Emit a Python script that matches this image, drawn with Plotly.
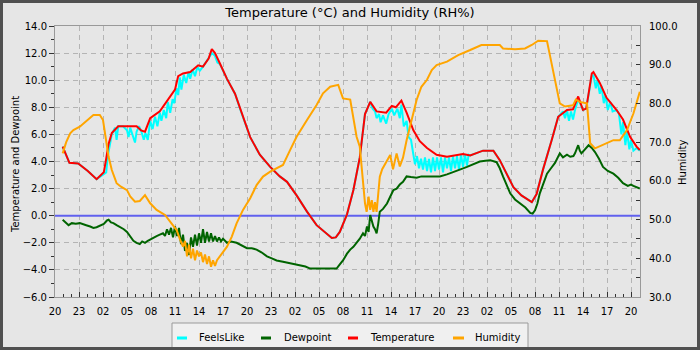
import pandas as pd
import plotly.graph_objects as go

# ---------------------------------------------------------------------------
# Data: hours after the start of the window (20:00 on the first day)
# ---------------------------------------------------------------------------
START = pd.Timestamp("2024-02-10 20:00")

temp_hours = [0.96, 1.8, 2.9, 4.1, 5.2, 6.1, 6.4, 6.7, 7.1, 7.9, 10.2, 10.75, 11.25, 11.9,
              13.1, 14.0, 15.0, 15.4, 16.0, 16.9, 17.9, 18.5, 19.2, 19.6, 20.0, 20.6, 21.5,
              22.5, 23.3, 24.4, 25.6, 26.9, 28.1, 29.0, 30.2, 31.5, 32.7, 33.75, 34.6, 35.1,
              35.6, 36.5, 37.3, 38.1, 38.75, 39.4, 40.2, 41.4, 42.1, 42.6, 43.3, 43.95, 44.8,
              45.6, 46.5, 47.7, 49.0, 51.0, 51.9, 53.5, 54.8, 55.6, 56.5, 57.3, 58.3, 59.6,
              60.2, 61.0, 62.1, 62.9, 64.0, 64.75, 65.4, 66.0, 66.4, 67.1, 67.3, 68.1, 68.95,
              70.2, 71.0, 71.9, 72.7, 73.1]
temp_vals = [5.1, 3.9, 3.85, 3.3, 2.7, 3.2, 4.2, 5.3, 6.1, 6.6, 6.6, 6.3, 6.2, 7.2,
             7.7, 8.5, 9.3, 10.3, 10.5, 10.6, 11.1, 11.0, 11.6, 12.3, 12.0, 11.25, 10.1,
             9.0, 7.6, 5.8, 4.5, 3.6, 2.9, 2.5, 1.5, 0.3, -0.7, -1.2, -1.65, -1.6,
             -1.2, 0.1, 1.9, 4.3, 7.5, 8.4, 7.7, 7.6, 8.1, 8.0, 8.5, 7.6, 6.3,
             5.5, 5.0, 4.5, 4.35, 4.55, 4.45, 4.8, 4.8, 4.1, 3.0, 2.1, 1.5, 1.0,
             1.6, 3.4, 5.6, 7.3, 7.8, 7.85, 8.8, 7.8, 7.9, 10.5, 10.6, 9.8, 8.7,
             7.8, 7.1, 5.8, 5.1, 4.85]

feels_hours = [0.96, 1.8, 2.9, 4.1, 5.2, 6.1, 6.4, 6.6, 6.8, 7.1, 7.5, 7.7, 7.9, 8.5, 9.0,
               9.2, 9.4, 9.7, 10.0, 10.2, 10.5, 10.8, 11.1, 11.3, 11.6, 11.9, 12.2, 12.5,
               12.8, 13.1, 13.3, 13.6, 13.9, 14.1, 14.4, 14.7, 14.9, 15.2, 15.4, 15.6, 15.8,
               16.1, 16.4, 16.7, 16.9, 17.2, 17.5, 17.8, 18.1, 18.5, 19.0, 19.4, 19.6, 20.0,
               20.3, 20.6, 21.5, 22.5, 23.3, 24.4, 25.6, 26.9, 28.1, 29.0, 30.2, 31.5, 32.7,
               33.75, 34.6, 35.1, 35.6, 36.5, 37.3, 38.1, 38.75, 39.4, 39.7, 40.0, 40.2,
               40.5, 40.7, 41.0, 41.4, 41.7, 42.1, 42.4, 42.8, 43.1, 43.3, 43.6, 43.95, 44.2,
               44.5, 44.8, 45.0, 45.25, 45.5, 45.75, 46.0, 46.25, 46.5, 46.75, 47.0, 47.25,
               47.5, 47.75, 48.0, 48.25, 48.5, 48.75, 49.0, 49.25, 49.5, 49.75, 50.0, 50.25,
               50.5, 50.75, 51.0, 51.25, 51.5, 51.7, 51.9, 53.5, 54.8, 55.6, 56.5, 57.3,
               58.3, 59.6, 60.2, 61.0, 62.1, 62.9, 63.5, 63.75, 64.0, 64.25, 64.5, 64.75,
               65.0, 65.4, 66.0, 66.4, 67.1, 67.3, 67.6, 67.8, 68.1, 68.3, 68.6, 68.8, 69.1,
               69.4, 69.7, 70.2, 70.5, 70.8, 71.0, 71.3, 71.5, 71.8, 72.0, 72.3, 72.7, 73.1]
feels_vals = [5.1, 3.9, 3.85, 3.3, 2.7, 3.1, 3.2, 4.4, 5.0, 6.0, 6.5, 5.6, 6.6, 6.6, 6.3,
              5.8, 6.5, 5.9, 5.4, 6.2, 6.6, 6.2, 5.6, 6.1, 5.6, 7.0, 6.4, 7.3,
              6.6, 7.6, 7.0, 7.8, 7.2, 8.4, 7.6, 8.6, 8.3, 9.4, 8.9, 10.2, 9.3,
              10.4, 9.8, 10.6, 10.1, 10.8, 10.3, 11.0, 10.7, 11.0, 11.4, 11.8, 12.0, 11.8,
              11.3, 11.2, 10.1, 9.0, 7.6, 5.8, 4.5, 3.6, 2.9, 2.5, 1.5, 0.3, -0.7,
              -1.2, -1.65, -1.6, -1.2, 0.1, 1.9, 4.3, 7.5, 8.4, 7.9, 7.7, 7.2,
              7.5, 6.9, 7.4, 6.8, 7.5, 7.9, 7.4, 7.9, 7.2, 8.2, 6.6, 7.0, 5.8,
              5.6, 4.5, 3.8, 4.4, 3.5, 4.2, 3.4, 4.3, 3.3, 4.2, 3.2, 4.3,
              3.3, 4.3, 3.4, 4.3, 3.2, 4.3, 3.5, 4.3, 3.3, 4.4, 3.5, 4.4,
              3.4, 4.5, 3.6, 4.5, 3.7, 4.5, 4.45, 4.8, 4.8, 4.1, 3.0, 2.1,
              1.5, 1.0, 1.6, 3.4, 5.6, 7.3, 7.7, 7.2, 7.8, 7.0, 7.7, 7.1,
              7.8, 8.6, 7.8, 7.9, 10.3, 10.4, 9.4, 10.0, 9.0, 9.6, 8.3, 8.9, 7.8,
              8.4, 7.7, 7.8, 7.5, 6.0, 6.9, 5.2, 6.2, 4.9, 5.6, 4.8, 5.0, 4.8]

dew_hours = [0.96, 1.3, 1.7, 2.1, 2.6, 3.1, 3.5, 3.9, 4.4, 4.8, 5.2, 5.6, 6.1, 6.5, 6.7,
             7.0, 7.3, 7.7, 8.2, 8.6, 9.0, 9.5, 9.8, 10.2, 10.6, 10.9, 11.25, 11.6, 12.0,
             12.3, 12.7, 13.1, 13.5, 13.75, 14.0, 14.25, 14.5, 14.75, 15.0, 15.25, 15.5,
             15.75, 16.0, 16.25, 16.5, 16.75, 17.0, 17.25, 17.5, 17.75, 18.0, 18.25, 18.5,
             18.75, 19.0, 19.25, 19.5, 19.75, 20.0, 20.25, 20.5, 20.75, 21.0, 21.5, 22.0,
             22.7, 23.3, 24.0, 24.6, 25.2, 25.8, 26.5, 27.1, 27.7, 28.5, 29.4, 30.0, 30.6,
             31.3, 31.9, 32.7, 33.5, 34.3, 35.2, 35.6, 36.0, 36.5, 36.9, 37.3, 37.7, 38.1,
             38.5, 38.75, 39.0, 39.2, 39.4, 39.6, 39.8, 40.0, 40.2, 40.4, 40.6, 41.0, 41.5,
             41.9, 42.3, 42.7, 43.1, 43.5, 43.95, 44.5, 45.2, 45.8, 46.5, 47.2, 48.1, 49.0,
             49.8, 50.6, 51.5, 52.3, 53.1, 53.8, 54.4, 55.2, 55.6, 56.0, 56.5, 56.9, 57.5,
             58.1, 58.8, 59.4, 59.7, 60.0, 60.3, 60.6, 61.0, 61.5, 62.0, 62.5, 63.1, 63.5,
             64.0, 64.4, 64.8, 65.0, 65.4, 65.6, 65.8, 66.2, 66.7, 67.1, 67.5, 68.0, 68.5,
             69.1, 69.8, 70.4, 71.0, 71.6, 72.0, 72.3, 72.7, 73.1]
dew_vals = [-0.3, -0.5, -0.7, -0.55, -0.6, -0.55, -0.65, -0.7, -0.8, -0.9, -0.85, -0.75, -0.6,
            -0.35, -0.3, -0.5, -0.55, -0.7, -0.85, -1.0, -1.2, -1.6, -1.85, -2.0, -2.1, -1.9,
            -2.0, -1.85, -1.7, -1.65, -1.5, -1.4, -1.3, -1.5, -1.0, -1.4, -0.9, -1.6, -0.8,
            -1.5, -0.9, -2.1, -1.4, -2.6, -2.0, -2.9, -1.6, -2.3, -1.4, -2.2, -1.3, -2.0,
            -1.0, -2.0, -1.2, -1.9, -1.3, -1.9, -1.5, -1.9, -1.6, -1.9, -1.7, -2.0, -1.9,
            -2.0, -2.2, -2.4, -2.4, -2.5, -2.7, -3.0, -3.15, -3.3, -3.4, -3.5, -3.55, -3.65,
            -3.75, -3.9, -3.9, -3.95, -3.9, -3.9, -3.6, -3.3, -2.8, -2.5, -2.3, -2.0, -1.7,
            -1.3, -1.5, -0.8, -1.2, 0.05, -0.5, -0.8, -1.0, -1.3, -0.6, 0.3, 0.5, 0.9,
            1.4, 1.9, 2.0, 2.3, 2.5, 2.9, 2.85, 2.8, 2.9, 2.9, 2.85, 2.9, 3.05,
            3.25, 3.4, 3.6, 3.8, 4.0, 4.05, 4.1, 3.95, 3.5, 2.9, 2.2, 1.65, 1.2,
            0.9, 0.6, 0.2, 0.15, 0.4, 0.9, 1.65, 2.3, 3.1, 3.5, 3.9, 4.6, 4.3,
            4.5, 4.35, 4.4, 4.6, 5.2, 4.8, 4.6, 4.9, 5.2, 5.0, 4.7, 4.2, 3.6,
            3.3, 3.1, 2.8, 2.4, 2.2, 2.3, 2.2, 2.1, 2.0]

hum_hours = [0.96, 1.4, 1.9, 2.3, 3.1, 4.0, 4.8, 5.6, 6.0, 6.25, 6.7, 7.1, 7.7, 8.25, 9.0,
             9.4, 10.0, 10.6, 11.25, 11.9, 12.7, 13.75, 14.4, 15.2, 15.6, 16.0, 16.25, 16.5,
             16.75, 17.0, 17.25, 17.5, 17.75, 18.0, 18.25, 18.5, 18.75, 19.0, 19.25, 19.5,
             19.75, 20.0, 20.25, 20.6, 21.5, 22.1, 22.7, 23.5, 24.4, 25.2, 26.0, 26.9, 27.7,
             28.5, 29.4, 30.2, 31.5, 32.7, 33.5, 34.4, 35.4, 35.75, 36.0, 36.9, 37.3, 37.7,
             38.1, 38.35, 38.75, 38.95, 39.2, 39.4, 39.6, 39.8, 40.0, 40.2, 40.6, 40.9, 41.5,
             41.9, 42.25, 42.7, 43.1, 43.5, 43.95, 44.6, 45.2, 45.8, 46.5, 47.1, 47.7, 49.0,
             50.4, 51.9, 53.3, 55.6, 56.0, 57.5, 58.75, 59.6, 60.4, 61.5, 61.9, 62.3, 62.7,
             63.1, 63.75, 64.75, 65.1, 65.6, 66.5, 66.7, 66.9, 67.5, 68.5, 69.8, 70.6, 71.5,
             72.3, 73.1]
hum_vals = [67.1, 70.0, 72.3, 73.1, 74.0, 75.7, 77.0, 77.0, 75.7, 72.3, 66.2, 62.8, 59.4, 58.5, 57.6,
            56.0, 54.6, 54.8, 56.3, 54.2, 52.5, 51.2, 49.4, 47.3, 45.0, 43.0, 44.5, 40.5,
            43.5, 40.0, 42.5, 39.5, 42.0, 40.5, 41.5, 39.0, 41.0, 38.5, 40.5, 37.8,
            39.5, 38.0, 39.5, 40.4, 43.0, 45.6, 49.0, 52.5, 55.5, 58.9, 61.1, 62.4, 63.2,
            64.1, 68.0, 71.4, 75.7, 79.6, 82.6, 84.3, 84.8, 83.0, 81.3, 81.0, 76.6, 71.4,
            68.8, 62.8, 54.2, 52.0, 55.9, 52.5, 55.0, 52.0, 54.5, 52.0, 61.1, 63.0, 65.4,
            66.7, 63.0, 67.1, 63.7, 66.0, 70.5, 76.2, 80.9, 84.3, 86.1, 88.6, 89.9, 90.8,
            92.5, 93.8, 95.1, 95.1, 94.2, 94.0, 94.2, 95.1, 96.2, 96.1, 92.1, 87.8, 84.3,
            80.0, 79.2, 79.5, 81.0, 80.4, 80.0, 75.7, 69.7, 68.4, 69.3, 70.5, 70.5, 73.1,
            77.4, 83.0]

X_SPAN_HOURS = 73.125
TEMP_RANGE = [-6, 14]
HUM_RANGE = [30, 100]
FREEZING = 0.0

TITLE = "Temperature (°C) and Humidity (RH%)"
LEFT_TITLE = "Temperature and Dewpoint"
RIGHT_TITLE = "Humidity"

SERIES = [
    ("FeelsLike", "#00ffff"),
    ("Dewpoint", "#006400"),
    ("Temperature", "#ff0000"),
    ("Humidity", "#ffa500"),
]

FONT = "DejaVu Sans"
BG = "#e6e6e6"

# ---------------------------------------------------------------------------
# Layout geometry (pixels)
# ---------------------------------------------------------------------------
W, H = 700, 350
ML, MR, MT, MB = 55, 60, 26, 53
PW, PH = W - ML - MR, H - MT - MB


def px_x(px):
    return (px - ML) / PW


def px_y(py):
    return (H - MB - py) / PH


def to_time(hours):
    return START + pd.to_timedelta(pd.Series(hours), unit="h")


x_start = START
x_end = START + pd.Timedelta(hours=X_SPAN_HOURS)

fig = go.Figure()

# freezing-point reference line, drawn first so the series sit over it
fig.add_trace(go.Scatter(x=[x_start, x_end], y=[FREEZING, FREEZING], mode="lines",
                         line=dict(color="#6060ee", width=2), hoverinfo="skip",
                         showlegend=False))

fig.add_trace(go.Scatter(x=to_time(feels_hours), y=feels_vals, name="FeelsLike",
                         mode="lines", line=dict(color=SERIES[0][1], width=2)))
fig.add_trace(go.Scatter(x=to_time(dew_hours), y=dew_vals, name="Dewpoint",
                         mode="lines", line=dict(color=SERIES[1][1], width=2)))
fig.add_trace(go.Scatter(x=to_time(temp_hours), y=temp_vals, name="Temperature",
                         mode="lines", line=dict(color=SERIES[2][1], width=2)))
fig.add_trace(go.Scatter(x=to_time(hum_hours), y=hum_vals, name="Humidity",
                         mode="lines", line=dict(color=SERIES[3][1], width=2),
                         yaxis="y2"))

tick_font = dict(family=FONT, size=10, color="#000000")
grid = dict(showgrid=True, gridcolor="#b4b4b4", gridwidth=1, griddash="5px,4px")

fig.update_layout(
    width=W, height=H,
    margin=dict(l=ML, r=MR, t=MT, b=MB, pad=0),
    paper_bgcolor=BG, plot_bgcolor=BG,
    showlegend=False,
    title=dict(text=TITLE, x=0.5, xref="container", xanchor="center",
               y=1 - 12 / H, yref="container", yanchor="middle",
               font=dict(family=FONT, size=13, color="#000000")),
    xaxis=dict(
        type="date",
        range=[x_start, x_end],
        tick0=START, dtick=3 * 3600 * 1000, tickformat="%H",
        ticks="inside", ticklen=5, tickcolor="#333333", tickfont=tick_font,
        ticklabelstandoff=5,
        minor=dict(dtick=3600 * 1000, ticks="inside", ticklen=3,
                   tickcolor="#333333", showgrid=False),
        showline=True, linecolor="#999999", linewidth=1, mirror=True,
        zeroline=False, **grid,
    ),
    yaxis=dict(
        range=TEMP_RANGE, tick0=-6, dtick=2, tickformat=".1f",
        ticks="outside", ticklen=5, tickcolor="#333333", tickfont=tick_font,
        minor=dict(dtick=1, ticks="outside", ticklen=3, tickcolor="#333333",
                   showgrid=False),
        showline=True, linecolor="#999999", linewidth=1,
        zeroline=False, **grid,
    ),
    yaxis2=dict(
        range=HUM_RANGE, tick0=30, dtick=10, tickformat=".1f",
        overlaying="y", side="right",
        ticks="inside", ticklen=4, tickcolor="#333333", tickfont=tick_font,
        ticklabelstandoff=6,
        minor=dict(dtick=5, ticks="inside", ticklen=4, tickcolor="#333333",
                   showgrid=False),
        showline=True, linecolor="#999999", linewidth=1,
        showgrid=False, zeroline=False,
    ),
)

# axis titles
fig.add_annotation(text=LEFT_TITLE, xref="paper", yref="paper",
                   x=px_x(15), y=px_y(164), textangle=-90, showarrow=False,
                   xanchor="center", yanchor="middle",
                   font=dict(family=FONT, size=10, color="#000000"))
fig.add_annotation(text=RIGHT_TITLE, xref="paper", yref="paper",
                   x=px_x(682), y=px_y(163), textangle=-90, showarrow=False,
                   xanchor="center", yanchor="middle",
                   font=dict(family=FONT, size=10, color="#000000"))

# legend box along the bottom
fig.add_shape(type="rect", xref="paper", yref="paper",
              x0=px_x(172), x1=px_x(528), y0=px_y(352), y1=px_y(323),
              fillcolor="#f0f0f0", line=dict(color="#9a9a9a", width=1), layer="above")
legend_marks = [(177, 187, 197), (261, 271, 282), (348, 358, 368), (453, 464, 473)]
for (name, color), (m0, m1, tx) in zip(SERIES, legend_marks):
    fig.add_shape(type="line", xref="paper", yref="paper",
                  x0=px_x(m0), x1=px_x(m1), y0=px_y(338), y1=px_y(338),
                  line=dict(color=color, width=3), layer="above")
    fig.add_annotation(text=name, xref="paper", yref="paper",
                       x=px_x(tx), y=px_y(337.5), showarrow=False,
                       xanchor="left", yanchor="middle",
                       font=dict(family=FONT, size=10, color="#000000"))

# dark frame around the whole image
fig.add_shape(type="rect", xref="paper", yref="paper",
              x0=px_x(1.5), x1=px_x(W - 1.5), y0=px_y(H - 1.5), y1=px_y(1.5),
              line=dict(color="#505050", width=3), fillcolor="rgba(0,0,0,0)",
              layer="above")

fig.write_html("out.html")
